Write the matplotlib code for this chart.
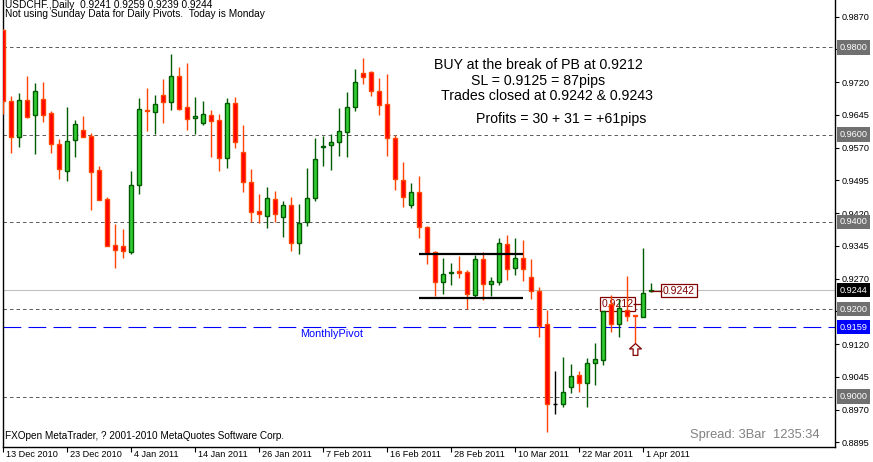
import matplotlib
matplotlib.use('Agg')
import matplotlib.pyplot as plt
from matplotlib.path import Path
from matplotlib.transforms import ScaledTranslation, blended_transform_factory

plt.rcParams['font.family'] = ['Liberation Sans', 'DejaVu Sans']

# ---------------- data ----------------
opens = [0.9840, 0.9677, 0.9594, 0.9679, 0.9644, 0.9682, 0.9650, 0.9579, 0.9516, 0.9587,
         0.9610, 0.9597, 0.9518, 0.9452, 0.9347, 0.9344, 0.9330, 0.9484, 0.9656, 0.9652,
         0.9691, 0.9674, 0.9734, 0.9663, 0.9637, 0.9626, 0.9644, 0.9633, 0.9546, 0.9672,
         0.9560, 0.9491, 0.9424, 0.9413, 0.9452, 0.9411, 0.9438, 0.9351, 0.9399, 0.9454,
         0.9571, 0.9576, 0.9582, 0.9605, 0.9663, 0.9740, 0.9743, 0.9699, 0.9669, 0.9592,
         0.9495, 0.9438, 0.9468, 0.9388, 0.9330, 0.9262, 0.9282, 0.9287, 0.9285, 0.9233,
         0.9315, 0.9257, 0.9263, 0.9349, 0.9295, 0.9317, 0.9273, 0.9242, 0.9166, 0.8983,
         0.8982, 0.9021, 0.9049, 0.9032, 0.9078, 0.9083, 0.9211, 0.9166, 0.9198, 0.9186,
         0.9182, 0.9241]
highs = [0.9842, 0.9688, 0.9695, 0.9734, 0.9718, 0.9720, 0.9655, 0.9591, 0.9663, 0.9634,
         0.9643, 0.9603, 0.9528, 0.9457, 0.9396, 0.9384, 0.9517, 0.9684, 0.9707, 0.9691,
         0.9727, 0.9785, 0.9755, 0.9765, 0.9686, 0.9677, 0.9657, 0.9647, 0.9684, 0.9685,
         0.9622, 0.9521, 0.9464, 0.9480, 0.9471, 0.9447, 0.9457, 0.9441, 0.9524, 0.9592,
         0.9597, 0.9601, 0.9660, 0.9697, 0.9750, 0.9775, 0.9745, 0.9730, 0.9738, 0.9599,
         0.9538, 0.9489, 0.9505, 0.9390, 0.9333, 0.9317, 0.9306, 0.9322, 0.9290, 0.9324,
         0.9331, 0.9274, 0.9363, 0.9370, 0.9363, 0.9359, 0.9315, 0.9252, 0.9198, 0.9059,
         0.9091, 0.9075, 0.9058, 0.9088, 0.9123, 0.9197, 0.9233, 0.9224, 0.9276, 0.9187,
         0.9340, 0.9259]
lows = [0.9647, 0.9559, 0.9572, 0.9639, 0.9556, 0.9630, 0.9559, 0.9499, 0.9494, 0.9549,
        0.9594, 0.9427, 0.9450, 0.9345, 0.9295, 0.9318, 0.9326, 0.9465, 0.9609, 0.9601,
        0.9627, 0.9656, 0.9656, 0.9611, 0.9601, 0.9623, 0.9549, 0.9517, 0.9524, 0.9570,
        0.9469, 0.9399, 0.9398, 0.9387, 0.9399, 0.9366, 0.9334, 0.9327, 0.9391, 0.9449,
        0.9529, 0.9520, 0.9552, 0.9549, 0.9655, 0.9717, 0.9689, 0.9646, 0.9552, 0.9474,
        0.9435, 0.9433, 0.9364, 0.9304, 0.9231, 0.9236, 0.9256, 0.9272, 0.9201, 0.9229,
        0.9222, 0.9231, 0.9256, 0.9268, 0.9279, 0.9265, 0.9224, 0.9137, 0.8920, 0.8959,
        0.8975, 0.9009, 0.9011, 0.8977, 0.9027, 0.9073, 0.9148, 0.9137, 0.9174, 0.9123,
        0.9182, 0.9239]
closes = [0.9677, 0.9594, 0.9679, 0.9641, 0.9700, 0.9646, 0.9578, 0.9521, 0.9585, 0.9624,
          0.9595, 0.9515, 0.9451, 0.9346, 0.9335, 0.9333, 0.9485, 0.9658, 0.9655, 0.9670,
          0.9674, 0.9734, 0.9658, 0.9636, 0.9642, 0.9647, 0.9631, 0.9546, 0.9672, 0.9582,
          0.9491, 0.9422, 0.9418, 0.9454, 0.9418, 0.9438, 0.9351, 0.9398, 0.9454, 0.9543,
          0.9573, 0.9582, 0.9608, 0.9663, 0.9720, 0.9731, 0.9699, 0.9667, 0.9592, 0.9498,
          0.9456, 0.9468, 0.9388, 0.9328, 0.9262, 0.9280, 0.9285, 0.9282, 0.9234, 0.9315,
          0.9257, 0.9264, 0.9351, 0.9293, 0.9317, 0.9292, 0.9241, 0.9162, 0.8982, 0.8983,
          0.9010, 0.9046, 0.9032, 0.9076, 0.9085, 0.9196, 0.9166, 0.9204, 0.9184, 0.9185,
          0.9237, 0.9244]

date_labels = ["13 Dec 2010", "23 Dec 2010", "4 Jan 2011", "14 Jan 2011", "26 Jan 2011",
               "7 Feb 2011", "16 Feb 2011", "28 Feb 2011", "10 Mar 2011", "22 Mar 2011",
               "1 Apr 2011"]
date_label_bars = [0, 8, 16, 24, 32, 40, 48, 56, 64, 72, 80]

price_ticks = [0.8895, 0.8970, 0.9045, 0.9120, 0.9195, 0.9270, 0.9345, 0.9420,
               0.9495, 0.9570, 0.9645, 0.9720, 0.9795, 0.9870]
hidden_ticks = [0.9195, 0.9795]   # covered by the level boxes in the reference
round_levels = [0.9800, 0.9600, 0.9400, 0.9200, 0.9000]
monthly_pivot = 0.9159
bid_price = 0.9244

range_top = 0.9327
range_bottom = 0.9226
range_bars = [52, 65]

entry_price = 0.9212
entry_label_bar = 75
entry_bar = 80
close_price = 0.9242
close_bar = 81
arrow_bar = 79
arrow_price = 0.9109

header1 = "USDCHF.,Daily  0.9241 0.9259 0.9239 0.9244"
header2 = "Not using Sunday Data for Daily Pivots.  Today is Monday"
notes = ["BUY at the break of PB at 0.9212", "SL = 0.9125 = 87pips",
         "Trades closed at 0.9242 & 0.9243", "Profits = 30 + 31 = +61pips"]

# ---------------- figure ----------------
W, H = 873, 462
fig = plt.figure(figsize=(W / 100, H / 100), dpi=100)
fig.patch.set_facecolor('white')
left_px, right_px, top_px, bottom_px = 2.5, 835, 0, 447
ax = fig.add_axes([left_px / W, 1 - bottom_px / H, (right_px - left_px) / W, (bottom_px - top_px) / H])
ax.set_facecolor('white')

ax.set_xlim(-0.06, 104)
ax.set_ylim(0.88845, 0.99083)

for s in ['left', 'right', 'bottom']:
    ax.spines[s].set_linewidth(1.0)
    ax.spines[s].set_color('black')
ax.spines['top'].set_visible(False)

# level lines
for lv in round_levels:
    ax.axhline(lv, color='#606060', lw=0.72, ls=(0, (3.5, 3)), zorder=1)
ax.axhline(monthly_pivot, color='#0000ff', lw=0.8, ls=(0, (16, 6.5)), zorder=1)
ax.axhline(bid_price, color='#c0c0c0', lw=0.8, zorder=1)

# candles
bull_fill, bull_edge = '#32cd32', '#005a00'
bear_fill, bear_edge = '#ff0000', '#ff4500'
bw = 0.62
for i, (o, h, l, c) in enumerate(zip(opens, highs, lows, closes)):
    if c > o:
        fc, ec = bull_fill, bull_edge
    elif c < o:
        fc, ec = bear_fill, bear_edge
    else:
        fc, ec = 'black', 'black'
    ax.vlines(i, l, h, color=ec, lw=1.0, zorder=3)
    lo, hi = min(o, c), max(o, c)
    if hi - lo < 1e-9:
        ax.hlines(o, i - bw / 2, i + bw / 2, color=ec, lw=1.0, zorder=4)
    else:
        ax.bar(i, hi - lo, bottom=lo, width=bw, color=fc, edgecolor=ec, linewidth=1.0, zorder=4)

# range lines
ax.hlines([range_top, range_bottom], range_bars[0], range_bars[1], color='black', lw=1.6, zorder=5)

# price labels for trade
lbl_color = '#800000'
ax.text(entry_label_bar - 0.2, entry_price, "0.9212", color=lbl_color, fontsize=7.5,
        ha='left', va='center', zorder=2,
        bbox=dict(boxstyle='square,pad=0.15', fc='white', ec=lbl_color, lw=0.9))
ax.hlines(entry_price, entry_label_bar + 3.7, entry_bar, color=lbl_color, lw=0.9, zorder=2)
ax.text(close_bar + 1.5, close_price, "0.9242", color=lbl_color, fontsize=7.5,
        ha='left', va='center', zorder=6,
        bbox=dict(boxstyle='square,pad=0.15', fc='white', ec=lbl_color, lw=0.9))
ax.hlines(close_price, close_bar, close_bar + 1.4, color=lbl_color, lw=0.9, zorder=6)

# buy arrow
arrow_path = Path([(0, 1), (-1, 0.1), (-0.4, 0.1), (-0.4, -1), (0.4, -1), (0.4, 0.1), (1, 0.1), (0, 1)],
                  [Path.MOVETO] + [Path.LINETO] * 6 + [Path.CLOSEPOLY])
ax.plot([arrow_bar], [arrow_price], marker=arrow_path, markersize=8.5, mfc='white',
        mec=lbl_color, mew=0.9, ls='none', zorder=6)

# x axis
ax.set_xticks(date_label_bars)
ax.set_xticklabels(date_labels)
ax.tick_params(axis='x', direction='out', length=3.5, width=0.8, pad=-1.5, labelsize=6.6, colors='black')
for t in ax.get_xticklabels():
    t.set_ha('left')
    t.set_transform(t.get_transform() + ScaledTranslation(3 / 100, 0, fig.dpi_scale_trans))

# y axis right
ax.yaxis.tick_right()
ax.set_yticks(price_ticks)
ax.set_yticklabels(["" if v in hidden_ticks else "%.4f" % v for v in price_ticks])
ax.tick_params(axis='y', direction='out', length=3, width=0.8, pad=1.5, labelsize=6.6, colors='black')

bt = blended_transform_factory(ax.transAxes, ax.transData)
xb = 1 + 4.5 / (right_px - left_px)
for lv in round_levels:
    ax.text(xb, lv, "%.4f" % lv, transform=bt, color='white', fontsize=6.6, ha='left', va='center',
            clip_on=False, zorder=10,
            bbox=dict(boxstyle='square,pad=0.3', fc='#707070', ec='none'))
ax.text(xb, bid_price, "%.4f" % bid_price, transform=bt, color='white', fontsize=6.6, ha='left',
        va='center', clip_on=False, zorder=10, bbox=dict(boxstyle='square,pad=0.3', fc='black', ec='none'))
ax.text(xb, monthly_pivot, "%.4f" % monthly_pivot, transform=bt, color='white', fontsize=6.6, ha='left',
        va='center', clip_on=False, zorder=10, bbox=dict(boxstyle='square,pad=0.3', fc='#0000ff', ec='none'))

# texts
def fx(px):
    return px / W

def fy(py):
    return 1 - py / H

fig.text(fx(5), fy(4.5), header1, fontsize=7.3, ha='left', va='center')
fig.text(fx(5), fy(14), header2, fontsize=7.3, ha='left', va='center')

note_pos = [(538, 65, 'center'), (538, 81.5, 'center'), (546.5, 96.5, 'center'), (561, 119.5, 'center')]
for txt, (x, y, ha) in zip(notes, note_pos):
    fig.text(fx(x), fy(y), txt, fontsize=10.2, ha=ha, va='center', color='black')

fig.text(fx(300), fy(334), "MonthlyPivot", fontsize=7.8, color='#0000ff', ha='left', va='center')
fig.text(fx(5), fy(436), "FXOpen MetaTrader, ? 2001-2010 MetaQuotes Software Corp.", fontsize=7.2,
         ha='left', va='center')
fig.text(fx(820), fy(435), "Spread: 3Bar  1235:34", fontsize=9.3, color='#808080', ha='right', va='center')

fig.savefig('out.png', dpi=100)
